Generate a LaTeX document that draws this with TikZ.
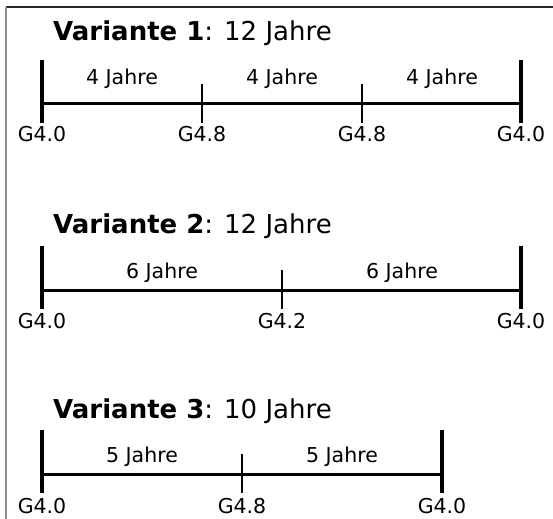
\documentclass[tikz,border=0pt]{standalone}
\usepackage{fontspec}
\setmainfont{DejaVu Sans}
\begin{document}
\begin{tikzpicture}[x=1bp,y=-1bp,
  titletext/.style={anchor=base west,inner sep=0pt,font=\fontsize{26bp}{30bp}\selectfont},
  spantext/.style={anchor=base,inner sep=0pt,font=\fontsize{20.5bp}{24bp}\selectfont},
  vertext/.style={anchor=base,inner sep=0pt,font=\fontsize{20.5bp}{24bp}\selectfont},
  axisline/.style={line width=3bp},
  endtick/.style={line width=3.2bp},
  midtick/.style={line width=1.5bp},
  frameline/.style={line width=1.5bp}]
\useasboundingbox (0,0) rectangle (553,519);
% frame
\coordinate (fa) at (6,7);
\coordinate (fb) at (553,7);
\coordinate (fc) at (6,519);
\draw[frameline,black!85] (fa) -- (fb);
\draw[frameline,black!45] (fa) -- (fc);

% ---------- Variante 1 ----------
\node[titletext] (t1) at (53,41) {\textbf{Variante 1}: 12 Jahre};
\coordinate (a0) at (42,104);
\coordinate (a1) at (202,104);
\coordinate (a2) at (362,104);
\coordinate (a3) at (521,104);
\draw[axisline] (a0) -- (a3);
\draw[endtick] ([yshift=44bp]a0) -- ([yshift=-19bp]a0);
\draw[endtick] ([yshift=44bp]a3) -- ([yshift=-19bp]a3);
\draw[midtick] ([yshift=20bp]a1) -- ([yshift=-19bp]a1);
\draw[midtick] ([yshift=20bp]a2) -- ([yshift=-19bp]a2);
\node[spantext] (s11) at (122,85) {4 Jahre};
\node[spantext] (s12) at (282,85) {4 Jahre};
\node[spantext] (s13) at (442,85) {4 Jahre};
\node[vertext] (g10) at (42,142) {G4.0};
\node[vertext] (g11) at (202,142) {G4.8};
\node[vertext] (g12) at (362,142) {G4.8};
\node[vertext] (g13) at (521,142) {G4.0};

% ---------- Variante 2 ----------
\node[titletext] (t2) at (53,233) {\textbf{Variante 2}: 12 Jahre};
\coordinate (b0) at (42,290);
\coordinate (b1) at (282,290);
\coordinate (b2) at (521,290);
\draw[axisline] (b0) -- (b2);
\draw[endtick] ([yshift=44bp]b0) -- ([yshift=-19bp]b0);
\draw[endtick] ([yshift=44bp]b2) -- ([yshift=-19bp]b2);
\draw[midtick] ([yshift=20bp]b1) -- ([yshift=-19bp]b1);
\node[spantext] (s21) at (162,278) {6 Jahre};
\node[spantext] (s22) at (402,278) {6 Jahre};
\node[vertext] (g20) at (42,328) {G4.0};
\node[vertext] (g21) at (282,328) {G4.2};
\node[vertext] (g22) at (521,328) {G4.0};

% ---------- Variante 3 ----------
\node[titletext] (t3) at (53,418) {\textbf{Variante 3}: 10 Jahre};
\coordinate (c0) at (42,474);
\coordinate (c1) at (242,474);
\coordinate (c2) at (442,474);
\draw[axisline] (c0) -- (c2);
\draw[endtick] ([yshift=44bp]c0) -- ([yshift=-19bp]c0);
\draw[endtick] ([yshift=44bp]c2) -- ([yshift=-19bp]c2);
\draw[midtick] ([yshift=20bp]c1) -- ([yshift=-19bp]c1);
\node[spantext] (s31) at (142,462) {5 Jahre};
\node[spantext] (s32) at (342,462) {5 Jahre};
\node[vertext] (g30) at (42,513) {G4.0};
\node[vertext] (g31) at (242,513) {G4.8};
\node[vertext] (g32) at (442,513) {G4.0};
\end{tikzpicture}
\end{document}
